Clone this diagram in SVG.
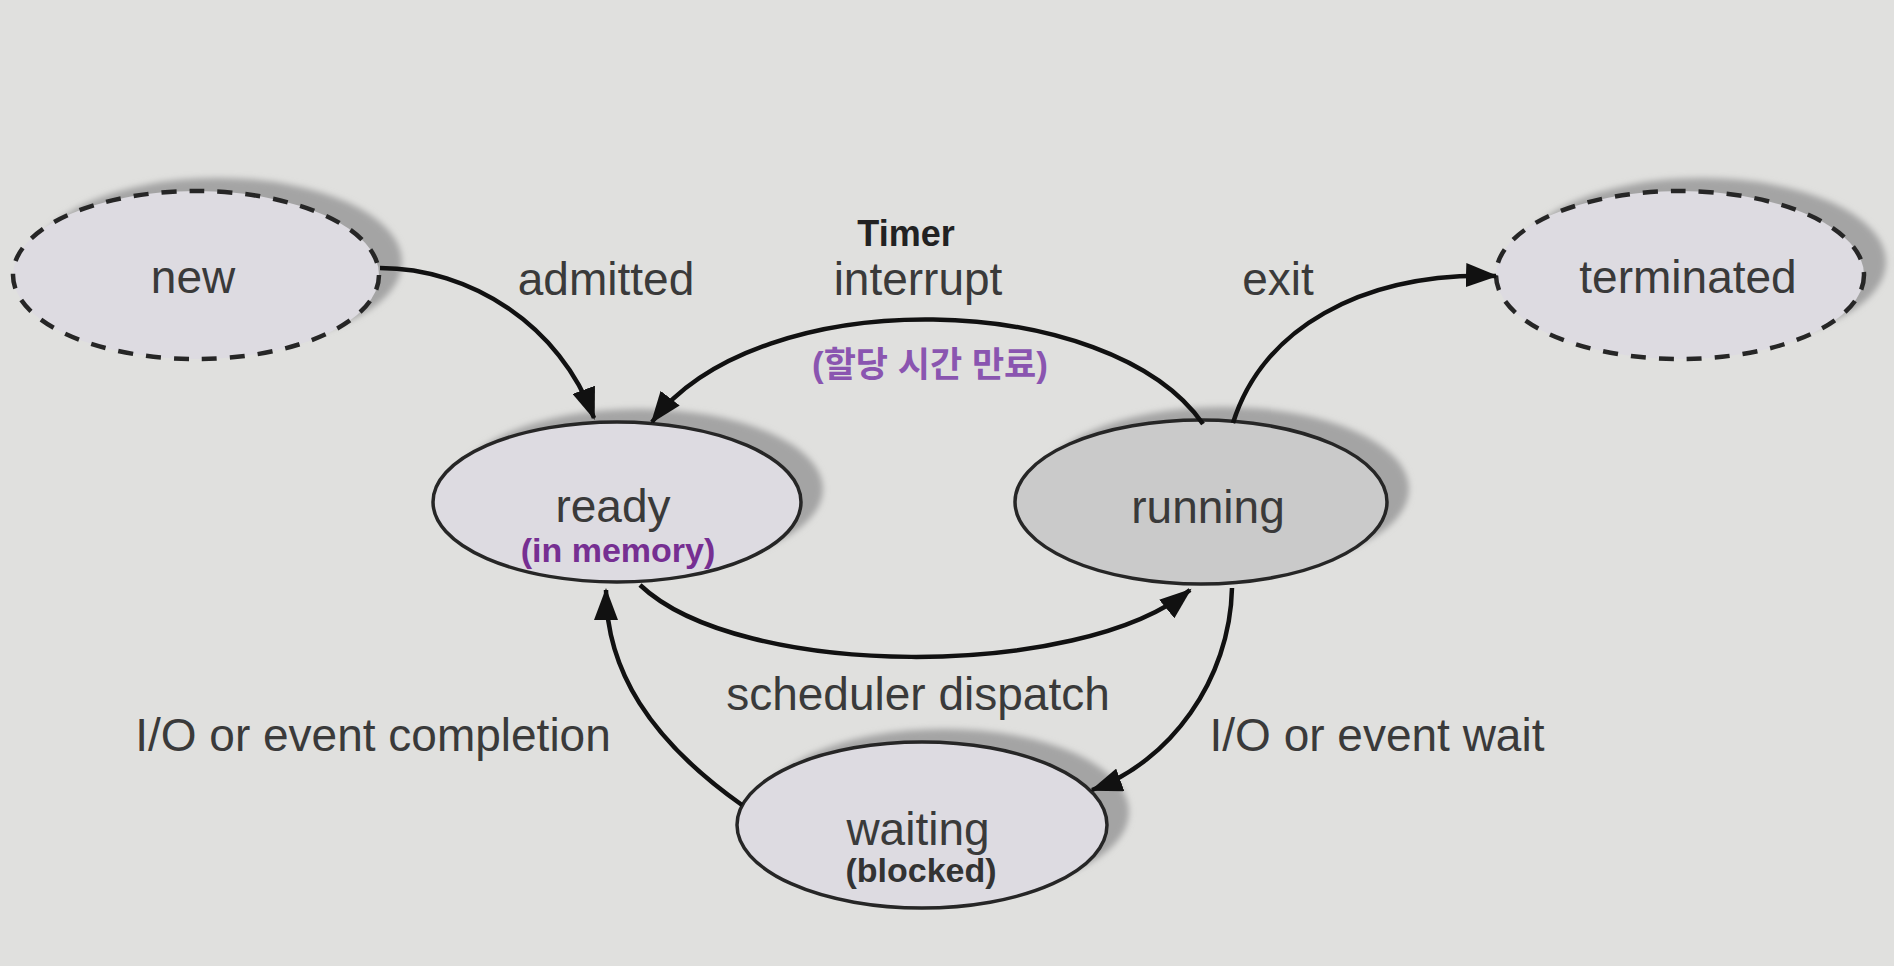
<svg xmlns="http://www.w3.org/2000/svg" width="1894" height="966" viewBox="0 0 1894 966">
<defs>
<style>
.bg{fill:#e0e0de}
.shadow{fill:#a4a4a4;filter:url(#blur)}
.node{fill:#dddbe1;stroke:#262626;stroke-width:3.5}
.dash{stroke-dasharray:15 13;stroke-width:4.5}
.run{fill:#cacaca}
.lbl{font-family:"Liberation Sans",Arial,sans-serif;font-size:46px;fill:#3a3a3a;text-anchor:middle}
.sub{font-family:"Liberation Sans",Arial,sans-serif;font-size:34px;font-weight:bold;text-anchor:middle}
.purple{fill:#762f92}
.kr{font-family:"Liberation Sans","Noto Sans CJK KR",sans-serif;font-size:35px;font-weight:bold;fill:#8a55b0;text-anchor:middle}
.edge{fill:none;stroke:#111;stroke-width:4.5;marker-end:url(#arrow)}
</style>
<filter id="blur" x="-10%" y="-10%" width="120%" height="120%"><feGaussianBlur stdDeviation="3"/></filter>
<marker id="arrow" markerUnits="userSpaceOnUse" markerWidth="34" markerHeight="24" refX="30" refY="12" orient="auto">
<path d="M0,0 L32,12 L0,24 z" fill="#111"/>
</marker>
</defs>
<rect class="bg" x="0" y="0" width="1894" height="966"/>

<g id="node-new">
<ellipse class="shadow" cx="218" cy="262" rx="184" ry="84"/>
<ellipse class="node dash" cx="196" cy="275" rx="183" ry="84"/>
<text class="lbl" x="193" y="293">new</text>
</g>

<g id="node-terminated">
<ellipse class="shadow" cx="1702" cy="262" rx="184" ry="84"/>
<ellipse class="node dash" cx="1680" cy="275" rx="184" ry="84"/>
<text class="lbl" x="1688" y="293">terminated</text>
</g>

<g id="node-ready">
<ellipse class="shadow" cx="639" cy="489" rx="184" ry="80"/>
<ellipse class="node" cx="617" cy="502" rx="184" ry="80"/>
<text class="lbl" x="613" y="522">ready</text>
<text class="sub purple" x="618" y="562">(in memory)</text>
</g>

<g id="node-running">
<ellipse class="shadow" cx="1223" cy="489" rx="186" ry="82"/>
<ellipse class="node run" cx="1201" cy="502" rx="186" ry="82"/>
<text class="lbl" x="1208" y="523">running</text>
</g>

<g id="node-waiting">
<ellipse class="shadow" cx="944" cy="812" rx="185" ry="83"/>
<ellipse class="node" cx="922" cy="825" rx="185" ry="83"/>
<text class="lbl" x="918" y="845">waiting</text>
<text class="sub" x="921" y="882" fill="#333">(blocked)</text>
</g>

<g id="connectors">
<path class="edge" d="M380 268 C 470 268, 560 325, 594 418"/>
<path class="edge" d="M1203 424 C 1110 290, 760 280, 652 422"/>
<path class="edge" d="M1233 423 C 1262 330, 1360 272, 1496 276"/>
<path class="edge" d="M640 585 C 740 680, 1080 680, 1190 590"/>
<path class="edge" d="M1232 588 C 1230 680, 1170 762, 1092 790"/>
<path class="edge" d="M742 805 C 650 740, 606 670, 606 590"/>
</g>

<g id="labels">
<text class="lbl" x="606" y="295">admitted</text>
<text class="lbl" x="906" y="246" style="font-weight:bold;font-size:36px;fill:#222">Timer</text>
<text class="lbl" x="918" y="295">interrupt</text>
<text class="kr" x="930" y="377">(할당 시간 만료)</text>
<text class="lbl" x="1278" y="295">exit</text>
<text class="lbl" x="918" y="710">scheduler dispatch</text>
<text class="lbl" x="373" y="751">I/O or event completion</text>
<text class="lbl" x="1377" y="751">I/O or event wait</text>
</g>
</svg>
